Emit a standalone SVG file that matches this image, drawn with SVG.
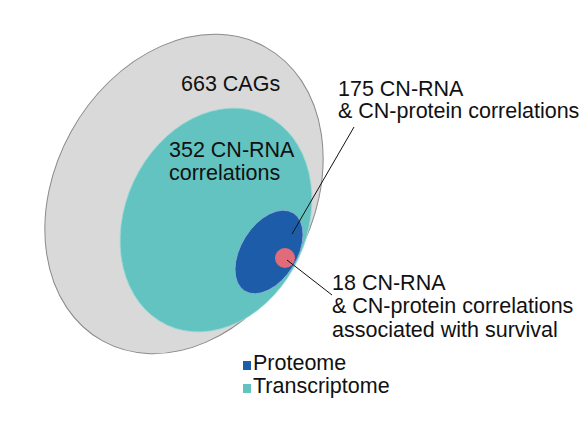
<svg xmlns="http://www.w3.org/2000/svg" width="581" height="425" viewBox="0 0 581 425">
<style>
text{font-family:"Liberation Sans",Arial,sans-serif;font-size:21.5px;fill:#111}
.lead{stroke:#111;stroke-width:1;fill:none}
</style>
<rect width="581" height="425" fill="#fff"/>
<g id="cags">
<ellipse cx="184" cy="194" rx="129" ry="168" transform="rotate(29 184 194)" fill="#d9d9d9" stroke="#8a8a8a" stroke-width="1"/>
<text x="181" y="91">663 CAGs</text>
</g>
<g id="transcriptome">
<ellipse cx="216" cy="220" rx="91" ry="116" transform="rotate(25 216 220)" fill="#62c3c0" stroke="#9fdad8" stroke-width="0.8"/>
<text x="169" y="157">352 CN-RNA</text>
<text x="169" y="180">correlations</text>
</g>
<g id="proteome">
<ellipse cx="269" cy="252" rx="28" ry="46" transform="rotate(32 269 252)" fill="#1d5ca8" stroke="#8fb0d8" stroke-width="0.8"/>
</g>
<g id="survival">
<circle cx="285" cy="258" r="10" fill="#e06b79"/>
</g>
<g id="connectors">
<line class="lead" x1="292" y1="234" x2="354" y2="127"/>
<line class="lead" x1="287" y1="260" x2="332" y2="295"/>
</g>
<g id="label-175">
<text x="338" y="96">175 CN-RNA</text>
<text x="338" y="118">&amp; CN-protein correlations</text>
</g>
<g id="label-18">
<text x="332" y="290">18 CN-RNA</text>
<text x="332" y="313">&amp; CN-protein correlations</text>
<text x="332" y="337">associated with survival</text>
</g>
<g id="legend">
<rect x="243" y="361" width="8" height="9" fill="#1d5ca8"/>
<text x="253" y="370">Proteome</text>
<rect x="243" y="384" width="8" height="9" fill="#62c3c0"/>
<text x="253" y="393">Transcriptome</text>
</g>
</svg>
